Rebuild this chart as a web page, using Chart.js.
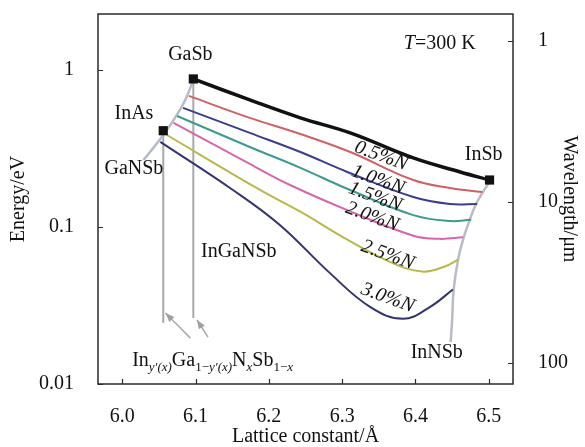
<!DOCTYPE html>
<html lang="en">
<head>
<meta charset="UTF-8">
<title>InGaNSb band gap vs lattice constant</title>
<script src="https://cdn.jsdelivr.net/npm/chart.js"></script>
<style>
  html, body { margin: 0; padding: 0; background: #fff; }
</style>
</head>
<body>
<canvas id="gapChart" width="585" height="447"></canvas>
<script>
// values: lattice constant (Å) vs energy (eV)
const gaSbInSbX = [6.097, 6.174, 6.243, 6.311, 6.397, 6.461, 6.501];
const gaSbInSbE = [0.876, 0.644, 0.495, 0.397, 0.275, 0.224, 0.199];

const n05X = [6.091, 6.174, 6.243, 6.311, 6.397, 6.447, 6.491];
const n05E = [0.683, 0.495, 0.391, 0.300, 0.199, 0.177, 0.167];

const n10X = [6.083, 6.174, 6.243, 6.307, 6.397, 6.447, 6.484];
const n10E = [0.573, 0.397, 0.300, 0.224, 0.155, 0.140, 0.140];

const n15X = [6.075, 6.174, 6.243, 6.307, 6.397, 6.447, 6.476];
const n15E = [0.509, 0.323, 0.238, 0.175, 0.119, 0.109, 0.111];

const n20X = [6.070, 6.174, 6.229, 6.307, 6.397, 6.433, 6.465];
const n20E = [0.460, 0.252, 0.185, 0.128, 0.088, 0.084, 0.086];

const n25X = [6.061, 6.188, 6.243, 6.307, 6.365, 6.409, 6.440, 6.458];
const n25E = [0.385, 0.172, 0.125, 0.083, 0.060, 0.052, 0.056, 0.062];

const n30X = [6.052, 6.151, 6.215, 6.283, 6.338, 6.383, 6.420, 6.451];
const n30E = [0.348, 0.172, 0.103, 0.051, 0.031, 0.026, 0.031, 0.040];

// grey boundary curves (GaNSb side, InNSb side)
const leftEdgeX = [6.097, 6.086, 6.072, 6.056, 6.038, 6.029];
const leftEdgeE = [0.864, 0.644, 0.495, 0.385, 0.300, 0.267];
const rightEdgeX = [6.501, 6.492, 6.482, 6.474, 6.466, 6.458, 6.452, 6.450, 6.448];
const rightEdgeE = [0.1935, 0.167, 0.138, 0.111, 0.0864, 0.0616, 0.0397, 0.0256, 0.0185];

// drop lines and arrows to the formula
const inAsDropX = [6.056, 6.056];
const inAsDropE = [0.41, 0.0245];
const gaSbDropX = [6.097, 6.097];
const gaSbDropE = [0.876, 0.0263];
const arrow1X = [6.093, 6.059];
const arrow1E = [0.0196, 0.0283];
const arrow2X = [6.117, 6.102];
const arrow2E = [0.0199, 0.0256];

// binary compounds
const binaryX = [6.097, 6.056, 6.501];
const binaryE = [0.876, 0.41, 0.199];

// text labels
const nameText = ['GaSb', 'InAs', 'GaNSb', 'InGaNSb', 'InSb', 'InNSb'];
const nameX = [6.093, 6.016, 6.016, 6.159, 6.493, 6.429];
const nameE = [1.246, 0.525, 0.234, 0.0693, 0.287, 0.0157];

const nText = ['0.5%N', '1.0%N', '1.5%N', '2.0%N', '2.5%N', '3.0%N'];
const nX = [6.353, 6.349, 6.345, 6.341, 6.362, 6.362];
const nE = [0.283, 0.199, 0.155, 0.116, 0.0663, 0.0353];

const xTicks = [6.0, 6.1, 6.2, 6.3, 6.4, 6.5];
const eTicks = [0.01, 0.1, 1];
const wlTicks = [1, 10, 100];

const serif = "'Liberation Serif', 'Times New Roman', serif";

function pts(xs, ys) {
    return xs.map((v, i) => ({ x: v, y: ys[i] }));
}

function curve(xs, ys, color, width) {
    return {
        data: pts(xs, ys),
        borderColor: color,
        borderWidth: width,
        pointRadius: 0,
        tension: 0.4,
        fill: false
    };
}

const arrows = [[arrow1X, arrow1E], [arrow2X, arrow2E]];

const decor = {
    id: 'decor',
    afterDatasetsDraw(chart) {
        const { ctx, scales: { x, y } } = chart;
        ctx.save();

        // arrow heads
        ctx.fillStyle = '#a0a0a0';
        arrows.forEach(([ax, ae]) => {
            const n = ax.length;
            const x1 = x.getPixelForValue(ax[n - 2]), y1 = y.getPixelForValue(ae[n - 2]);
            const x2 = x.getPixelForValue(ax[n - 1]), y2 = y.getPixelForValue(ae[n - 1]);
            const a = Math.atan2(y2 - y1, x2 - x1);
            const c = Math.cos(a), s = Math.sin(a);
            ctx.beginPath();
            ctx.moveTo(x2, y2);
            ctx.lineTo(x2 - 9 * c + 3.5 * s, y2 - 9 * s - 3.5 * c);
            ctx.lineTo(x2 - 9 * c - 3.5 * s, y2 - 9 * s + 3.5 * c);
            ctx.closePath();
            ctx.fill();
        });

        ctx.fillStyle = '#111';
        ctx.textAlign = 'center';
        ctx.textBaseline = 'middle';
        ctx.font = '20px ' + serif;
        nameText.forEach((t, i) => {
            ctx.fillText(t, x.getPixelForValue(nameX[i]), y.getPixelForValue(nameE[i]));
        });

        // N content labels, tilted along the curves
        ctx.font = 'italic 20px ' + serif;
        nText.forEach((t, i) => {
            ctx.save();
            ctx.translate(x.getPixelForValue(nX[i]), y.getPixelForValue(nE[i]));
            ctx.rotate(20 * Math.PI / 180);
            ctx.fillText(t, 0, 0);
            ctx.restore();
        });

        // T=300 K
        ctx.textAlign = 'left';
        ctx.textBaseline = 'alphabetic';
        let tx = x.getPixelForValue(6.433), ty = y.getPixelForValue(1.51) + 7;
        ctx.font = 'italic 20px ' + serif;
        const wT = ctx.measureText('T').width;
        ctx.font = '20px ' + serif;
        const wRest = ctx.measureText('=300 K').width;
        tx -= (wT + wRest) / 2;
        ctx.font = 'italic 20px ' + serif;
        ctx.fillText('T', tx, ty);
        ctx.font = '20px ' + serif;
        ctx.fillText('=300 K', tx + wT, ty);

        // In_y'(x) Ga_1-y'(x) N_x Sb_1-x
        const parts = [
            ['In', 0, 0], ['y\u2032(x)', 1, 1], ['Ga', 0, 0], ['1\u2212', 1, 0], ['y\u2032(x)', 1, 1],
            ['N', 0, 0], ['x', 1, 1], ['Sb', 0, 0], ['1\u2212', 1, 0], ['x', 1, 1]
        ];
        let fx = x.getPixelForValue(6.0136);
        const fy = y.getPixelForValue(0.0130);
        parts.forEach(([t, sub, it]) => {
            ctx.font = (it ? 'italic ' : '') + (sub ? '13px ' : '20px ') + serif;
            ctx.fillText(t, fx, fy + (sub ? 5 : 0));
            fx += ctx.measureText(t).width;
        });
        ctx.restore();
    },
    afterDraw(chart) {
        const { ctx, chartArea: a, scales } = chart;
        ctx.save();
        ctx.strokeStyle = '#2a2a2a';
        ctx.lineWidth = 1.5;
        ctx.strokeRect(a.left, a.top, a.right - a.left, a.bottom - a.top);
        ctx.lineWidth = 1.2;
        ctx.beginPath();
        xTicks.forEach(v => {
            const p = Math.round(scales.x.getPixelForValue(v)) + 0.5;
            ctx.moveTo(p, a.bottom);
            ctx.lineTo(p, a.bottom - 5);
        });
        eTicks.forEach(v => {
            const p = Math.round(scales.y.getPixelForValue(v)) + 0.5;
            ctx.moveTo(a.left, p);
            ctx.lineTo(a.left + 5, p);
        });
        wlTicks.forEach(v => {
            const p = Math.round(scales.y2.getPixelForValue(v)) + 0.5;
            ctx.moveTo(a.right, p);
            ctx.lineTo(a.right - 5, p);
        });
        ctx.stroke();
        ctx.restore();
    }
};

const tickFont = { family: serif, size: 20 };
const titleFont = { family: serif, size: 20, lineHeight: 1 };

function fixVertical(w) {
    return s => { s.width = w; s.paddingTop = 0; s.paddingBottom = 0; };
}

new Chart(document.getElementById('gapChart'), {
    type: 'line',
    data: {
        datasets: [
            {
                data: pts(binaryX, binaryE),
                showLine: false,
                pointStyle: 'rect',
                pointRadius: 6.5,
                pointBackgroundColor: '#111',
                pointBorderColor: '#111',
                pointBorderWidth: 0
            },
            curve(gaSbInSbX, gaSbInSbE, '#111111', 3.5),
            curve(n05X, n05E, '#cf6068', 2),
            curve(n10X, n10E, '#3d3d90', 2),
            curve(n15X, n15E, '#3e9a8d', 2),
            curve(n20X, n20E, '#d567aa', 2),
            curve(n25X, n25E, '#b7b84c', 2),
            curve(n30X, n30E, '#34346e', 2),
            curve(leftEdgeX, leftEdgeE, '#b6bacb', 2.5),
            curve(rightEdgeX, rightEdgeE, '#b8bcc6', 2.5),
            curve(inAsDropX, inAsDropE, '#a9a9a9', 2),
            curve(gaSbDropX, gaSbDropE, '#a9a9a9', 2),
            curve(arrow1X, arrow1E, '#aaaaaa', 1.5),
            curve(arrow2X, arrow2E, '#aaaaaa', 1.5)
        ]
    },
    options: {
        responsive: false,
        animation: false,
        layout: { padding: { top: 14, left: 0, right: 0, bottom: 0 } },
        plugins: { legend: { display: false }, tooltip: { enabled: false } },
        scales: {
            x: {
                type: 'linear',
                min: 5.967,
                max: 6.533,
                grid: { display: false },
                border: { display: false },
                afterBuildTicks: s => { s.ticks = xTicks.map(v => ({ value: v })); },
                afterFit: s => { s.height = 63; s.paddingLeft = 0; s.paddingRight = 0; },
                ticks: { font: tickFont, color: '#111', padding: 13, callback: v => v.toFixed(1) },
                title: { display: true, text: 'Lattice constant/\u00c5', font: titleFont, color: '#111', padding: { top: 0, bottom: 0 } }
            },
            y: {
                type: 'logarithmic',
                min: 0.01,
                max: 2.27,
                grid: { display: false },
                border: { display: false },
                afterBuildTicks: s => { s.ticks = eTicks.map(v => ({ value: v })); },
                afterFit: fixVertical(98),
                ticks: { font: tickFont, color: '#111', padding: 16, callback: v => String(v) },
                title: { display: true, text: 'Energy/eV', font: titleFont, color: '#111', padding: { top: 9, bottom: 0 } }
            },
            y2: {
                type: 'logarithmic',
                position: 'right',
                reverse: true,
                min: 0.68,
                max: 135,
                grid: { display: false },
                border: { display: false },
                afterBuildTicks: s => { s.ticks = wlTicks.map(v => ({ value: v })); },
                afterFit: fixVertical(72),
                ticks: { font: tickFont, color: '#111', padding: 17, callback: v => String(v) },
                title: { display: true, text: 'Wavelength/\u03bcm', font: titleFont, color: '#111', padding: { top: 6, bottom: 0 } }
            }
        }
    },
    plugins: [decor]
});
</script>
</body>
</html>
